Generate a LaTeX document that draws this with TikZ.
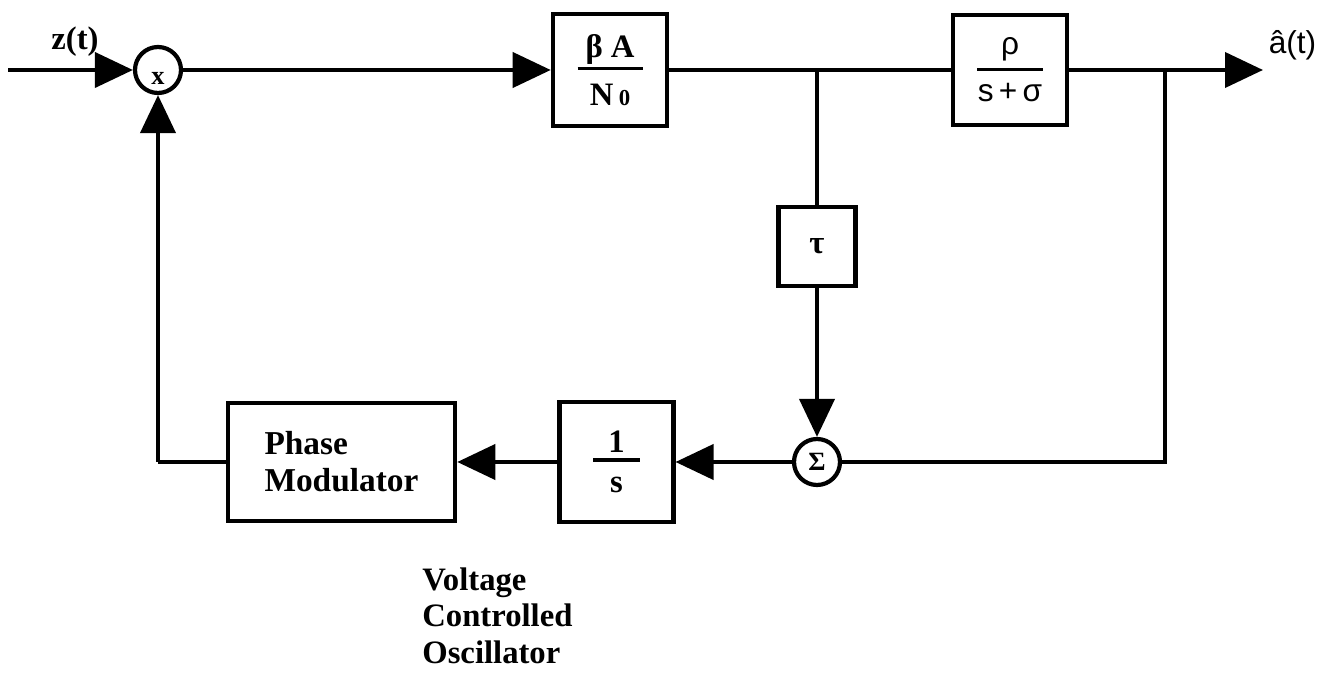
\documentclass[tikz,border=0pt]{standalone}
\usepackage{fontspec}
\setmainfont{Liberation Serif}
\setsansfont{Liberation Sans}
\usetikzlibrary{arrows.meta,positioning}
% fraction inside a block: top, bottom, bar width, gap above bar, gap below bar
\newcommand{\blkfrac}[5]{#1\\[#4]\rule{#3}{1.8pt}\\[#5]#2}

\begin{document}
\begin{tikzpicture}[
    every node/.style={font=\bfseries\fontsize{18.6}{21}\selectfont},
    blk/.style={draw, line width=2.6pt, minimum width=2.28cm,
                minimum height=2.2cm, inner sep=0pt, align=center},
    sumc/.style={draw, circle, line width=2.4pt, minimum size=0.92cm, inner sep=0pt},
    ln/.style={line width=2.3pt},
    arr/.style={ln, -{Triangle[length=0.76cm, width=0.7cm]}},
  ]
  \useasboundingbox (0,0) rectangle (26.4,-13.52);

  % forward path
  \coordinate (in) at (0.16,-1.40);
  \node[sumc] (mul) at (3.16,-1.40)
    {\fontsize{15}{15}\selectfont\smash{\raisebox{-8.5pt}{x}}};
  \node[blk, minimum height=2.24cm] (gain) at (12.2,-1.40)
    {\blkfrac{β A}{N\,{\fontsize{13}{13}\selectfont 0}}{1.3cm}{-13.6pt}{-0.9pt}};
  \coordinate (jn) at (16.34,-1.40);
  \node[blk, font=\sffamily\fontsize{18}{21}\selectfont] (filt) at (20.2,-1.40)
    {\blkfrac{ρ}{s\,+\,σ}{1.32cm}{-12pt}{-3.4pt}};
  \coordinate (tap) at (23.3,-1.40);
  \coordinate (out) at (25.26,-1.40);

  % feedback path
  \node[blk, minimum width=1.54cm, minimum height=1.58cm] (tau) at (16.34,-4.93) {τ};
  \node[sumc, font=\bfseries\fontsize{15}{15}\selectfont] (sum) at (16.34,-9.24) {Σ};
  \coordinate (tapb) at (23.3,-9.24);
  \node[blk, minimum width=2.27cm, minimum height=2.4cm] (integ) at (12.33,-9.24)
    {\blkfrac{1}{s}{0.94cm}{-15.9pt}{-3.4pt}};
  \node[blk, minimum width=4.54cm, minimum height=2.36cm, align=left,
        font=\bfseries\fontsize{19}{21}\selectfont] (pm) at (6.83,-9.24)
    {Phase\\Modulator};
  \coordinate (fb) at (mul |- pm);

  % labels
  \node (zt) at (1.5,-0.84) {z(t)};
  \node[font=\sffamily\fontsize{18}{21}\selectfont] (at) at (25.85,-0.9) {\^{a}(t)};
  \node[anchor=north west, inner sep=0pt, align=left] (vco) at (8.44,-11.34)
    {Voltage\\Controlled\\Oscillator};

  % connectors
  \draw[arr] (in) -- (mul);
  \draw[arr] (mul) -- (gain);
  \draw[ln] (gain) -- (filt);
  \draw[arr] (filt) -- (out);
  \draw[ln] (jn) -- (tau);
  \draw[arr] (tau) -- (sum);
  \draw[ln] (tap) -- (tapb) -- (sum);
  \draw[arr] (sum) -- (integ);
  \draw[arr] (integ) -- (pm);
  \draw[ln] (pm) -- (fb);
  \draw[arr] (fb) -- (mul);
\end{tikzpicture}
\end{document}
